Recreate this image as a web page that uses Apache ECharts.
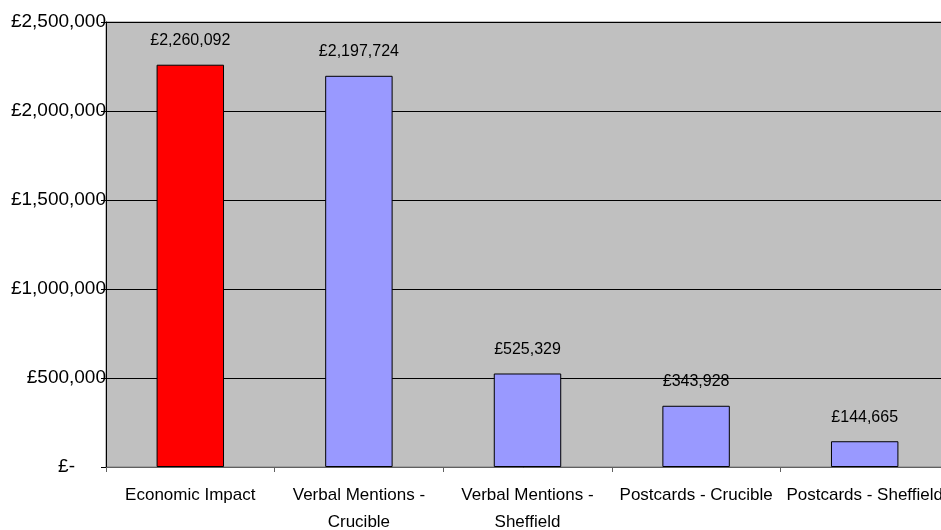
<!DOCTYPE html>
<html>
<head>
<meta charset="utf-8">
<script src="https://cdn.jsdelivr.net/npm/echarts@6/dist/echarts.min.js"></script>
<style>html,body{margin:0;padding:0;background:#fff}#c{width:941px;height:530px}</style>
</head>
<body>
<div id="c"></div>
<script>
var categories = ['Economic Impact', 'Verbal Mentions -\nCrucible', 'Verbal Mentions -\nSheffield', 'Postcards - Crucible', 'Postcards - Sheffield'];
var values = [2260092, 2197724, 525329, 343928, 144665];
var barColors = ['#FF0000', '#9999FF', '#9999FF', '#9999FF', '#9999FF'];

function fmt(v) {
  return '£' + v.toString().replace(/\B(?=(\d{3})+(?!\d))/g, ',');
}

var chart = echarts.init(document.getElementById('c'));
chart.setOption({
  animation: false,
  backgroundColor: '#ffffff',
  grid: {
    left: 106, top: 22, right: -8, bottom: 63,
    outerBoundsMode: 'none', containLabel: false,
    show: true, backgroundColor: '#C0C0C0', borderColor: '#808080', borderWidth: 1
  },
  xAxis: {
    type: 'category',
    data: categories,
    axisLine: { lineStyle: { color: '#606060', width: 1 } },
    axisTick: { show: true, length: 5, lineStyle: { color: '#606060' } },
    axisLabel: {
      color: '#000', fontFamily: 'Liberation Sans, Arial', fontSize: 17, margin: 15,
      lineHeight: 27, interval: 0
    }
  },
  yAxis: {
    type: 'value',
    min: 0, max: 2500000, interval: 500000,
    axisLine: { show: true, lineStyle: { color: '#000', width: 1 } },
    axisTick: { show: true, length: 5, lineStyle: { color: '#000' } },
    splitLine: { show: true, lineStyle: { color: '#000', width: 1 } },
    axisLabel: {
      color: '#000', fontFamily: 'Liberation Sans, Arial', fontSize: 19, margin: 0,
      formatter: function (v) { return v === 0 ? '{z|£-}' : fmt(v); },
      rich: { z: { fontFamily: 'Liberation Sans, Arial', fontSize: 19, color: '#000', padding: [0, 31, 0, 0] } }
    }
  },
  series: [{
    type: 'bar',
    barWidth: '40%',
    data: values.map(function (v, i) {
      return { value: v, itemStyle: { color: barColors[i] } };
    }),
    itemStyle: { borderColor: '#000', borderWidth: 1 },
    label: {
      show: true, position: 'top', distance: 16,
      color: '#000', fontFamily: 'Liberation Sans, Arial', fontSize: 16,
      formatter: function (p) { return fmt(p.value); }
    }
  }]
});
</script>
</body>
</html>
